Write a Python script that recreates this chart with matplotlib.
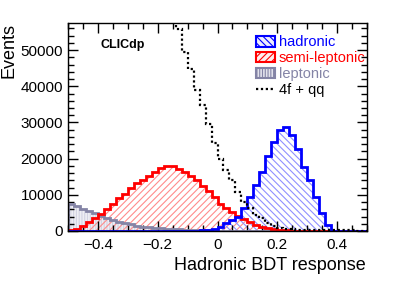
import numpy as np
import matplotlib
matplotlib.use("Agg")
import matplotlib.pyplot as plt
from matplotlib.patches import Patch
from matplotlib.lines import Line2D
from matplotlib.ticker import MultipleLocator

plt.rcParams['font.family'] = ['Liberation Sans', 'DejaVu Sans']
plt.rcParams['hatch.linewidth'] = 0.8

# 50 bins of width 0.02 from -0.5 to 0.5
bin_edges = np.linspace(-0.5, 0.5, 51)

hadronic = [0, 0, 0, 0, 0, 0, 0, 0, 0, 0,
            0, 0, 0, 0, 0, 10, 10, 20, 30, 50,
            80, 120, 180, 250, 500, 1200, 2100, 3000, 4000, 6300,
            9500, 12600, 16400, 20700, 24700, 27900, 28700, 26500, 22700, 17800,
            14000, 9500, 4900, 1700, 100, 0, 0, 0, 0, 0]

semi_leptonic = [150, 600, 1500, 2500, 3600, 4700, 6100, 7600, 9000, 10300,
                 11900, 13200, 14200, 15100, 16400, 17300, 18000, 17900, 17200, 16300,
                 15200, 14000, 12500, 11000, 9300, 7400, 6400, 5200, 4200, 3200,
                 2400, 1700, 1200, 800, 500, 300, 200, 100, 50, 20,
                 0, 0, 0, 0, 0, 0, 0, 0, 0, 0]

leptonic = [7400, 6800, 6100, 5500, 4900, 4200, 3500, 3000, 2600, 2100,
            1800, 1500, 1200, 1000, 850, 700, 600, 500, 420, 360,
            300, 250, 200, 160, 120, 90, 70, 50, 40, 30,
            20, 10, 0, 0, 0, 0, 0, 0, 0, 0,
            0, 0, 0, 0, 0, 0, 0, 0, 0, 0]

bkg_4f_qq = [99000, 97000, 95000, 93000, 91000, 89000, 87000, 85000, 82000, 79000,
             76000, 74000, 71000, 69000, 66000, 64000, 62000, 60000, 55800, 49400,
             44900, 39000, 34800, 29500, 24200, 19900, 17000, 14000, 10900, 8100,
             6300, 4400, 3500, 2100, 1400, 900, 600, 450, 350, 300,
             250, 250, 200, 200, 200, 150, 150, 150, 100, 100]

centers = 0.5 * (bin_edges[1:] + bin_edges[:-1])

fig = plt.figure(figsize=(3.99, 2.83), dpi=100)
ax = fig.add_axes([68/399, 1 - 231/283, 299/399, 208/283])

# leptonic (behind)
ax.hist(centers, bins=bin_edges, weights=leptonic, histtype='stepfilled',
        facecolor='#eeeef4', edgecolor='none', lw=0)
ax.hist(centers, bins=bin_edges, weights=leptonic, histtype='stepfilled',
        facecolor='none', edgecolor='#d2d2e2', hatch='||||||', lw=0)
ax.hist(centers, bins=bin_edges, weights=leptonic, histtype='step',
        color='#8484a6', lw=2)
# semi-leptonic
ax.hist(centers, bins=bin_edges, weights=semi_leptonic, histtype='stepfilled',
        facecolor='none', edgecolor='#ff8c8c', hatch='/////', lw=0)
ax.hist(centers, bins=bin_edges, weights=semi_leptonic, histtype='step',
        color='#ff0000', lw=2)
# hadronic
ax.hist(centers, bins=bin_edges, weights=hadronic, histtype='stepfilled',
        facecolor='none', edgecolor='#9090ff', hatch='\\\\\\\\\\', lw=0)
ax.hist(centers, bins=bin_edges, weights=hadronic, histtype='step',
        color='#0000ff', lw=2)
# 4f + qq background
ax.hist(centers, bins=bin_edges, weights=bkg_4f_qq, histtype='step',
        color='black', lw=1.6, ls=(0, (1, 1.2)))

ax.set_xlim(-0.5, 0.5)
ax.set_ylim(0, 57500)

ax.xaxis.set_major_locator(MultipleLocator(0.2))
ax.xaxis.set_minor_locator(MultipleLocator(0.05))
ax.yaxis.set_major_locator(MultipleLocator(10000))
ax.yaxis.set_minor_locator(MultipleLocator(2000))
ax.tick_params(which='both', direction='in', top=True, right=True, labelsize=11,
               width=1)
ax.tick_params(which='major', length=7)
ax.tick_params(which='minor', length=4)
ax.tick_params(axis='x', pad=5)
for s in ax.spines.values():
    s.set_linewidth(1)

ax.set_xticks([-0.4, -0.2, 0, 0.2, 0.4])
ax.set_xticklabels(['\u22120.4', '\u22120.2', '0', '0.2', '0.4'])

fig.text(366/399, 1 - 265/283, 'Hadronic BDT response', ha='right', va='center',
         fontsize=13)
fig.text(9/399, 1 - 50/283, 'Events', rotation=90, ha='center', va='center',
         fontsize=13)
ax.text(0.11, 0.895, 'CLICdp', transform=ax.transAxes, fontsize=9,
        fontweight='bold', ha='left', va='center')

handles = [Patch(facecolor='#eeeeff', edgecolor='#0000ff', hatch='\\\\\\\\\\', lw=1.5),
           Patch(facecolor='#ffeeee', edgecolor='#ff0000', hatch='/////', lw=1.5),
           Patch(facecolor='#e2e2ec', edgecolor='#8484a6', hatch='||||||', lw=1.5),
           Line2D([], [], color='black', lw=1.6, ls=(0, (1, 1.2)))]
labels = ['hadronic', 'semi-leptonic', 'leptonic', '4f + qq']
leg = ax.legend(handles, labels, loc='upper left', bbox_to_anchor=(0.605, 0.975),
                frameon=False, fontsize=10.5, handlelength=1.3, handleheight=0.75,
                handletextpad=0.25, labelspacing=0.12, borderpad=0,
                labelcolor=['#0000ff', '#ff0000', '#8484a6', 'black'])

fig.savefig('out.png', dpi=100)
